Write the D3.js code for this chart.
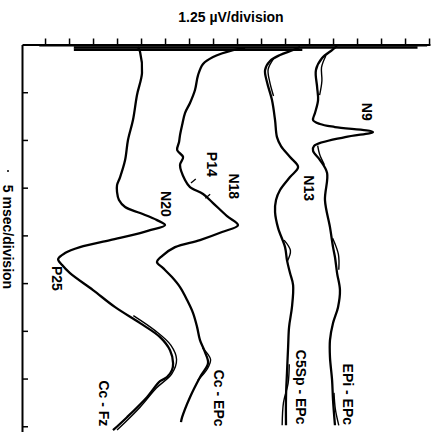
<!DOCTYPE html>
<html>
<head>
<meta charset="utf-8">
<script src="https://cdn.jsdelivr.net/npm/d3@7"></script>
<style>
  body { margin: 0; background: #fff; }
  svg text { font-family: "Liberation Sans", Arial, sans-serif; font-weight: bold; fill: #000; }
</style>
</head>
<body>
<div id="chart"></div>
<script>
// time in msec (down the page), amplitude in µV (across the page)
const ccFzT   = [0.26,0.79,2.99,5.29,7.91,10.01,12.11,13.89,14.73,15.46,16.30,17.03,17.66,18.40,18.92,19.45,19.76,20.49,21.23,21.85,22.48,23.11,23.95,25.73,27.52,29.19,30.66,32.03,33.39,34.12,34.86,35.28,36.95,39.05,40.41];
const ccFzV   = [4.84,4.95,5.05,4.79,4.58,4.32,4.17,3.91,3.75,3.75,3.85,4.17,4.95,5.83,6.25,5.47,4.95,3.39,1.82,1.04,0.68,0.89,1.30,2.50,3.65,4.95,5.99,6.51,6.67,6.61,6.35,5.99,5.31,4.27,3.54];

const ccEPcT  = [0.37,0.58,1.31,2.04,3.20,4.77,6.13,7.18,8.44,9.49,10.22,11.06,11.79,12.63,14.20,14.94,15.67,16.61,17.98,18.92,19.65,20.49,21.23,22.17,22.80,23.43,24.37,25.42,26.78,28.14,29.61,30.97,32.23,33.39,34.86,36.95,39.05,39.57];
const ccEPcV  = [10.42,9.79,8.75,8.23,7.97,7.81,7.55,7.29,7.14,7.03,6.98,6.88,7.19,7.03,7.29,7.55,8.23,8.75,9.48,10.05,9.22,8.07,6.77,6.09,5.83,6.15,6.61,7.03,7.40,7.71,7.92,8.07,8.33,8.49,8.07,7.55,7.14,7.08];

const c5spT   = [0.26,0.58,1.10,1.73,2.67,3.93,5.82,7.92,9.70,10.64,11.79,12.84,13.89,15.25,16.30,17.56,19.24,21.23,22.59,23.95,25.21,27.52,29.61,31.71,34.44,36.95,39.89];
const c5spV   = [13.28,12.92,12.24,11.72,11.46,11.56,11.82,11.98,12.08,12.29,12.76,13.18,12.76,12.24,12.03,11.98,12.14,12.50,12.60,12.76,12.92,12.86,12.71,12.66,12.60,12.55,12.55];

const epiT    = [0.16,0.58,1.42,2.67,4.45,5.82,7.18,7.92,8.33,8.65,9.17,9.70,10.64,11.16,12.11,13.47,16.30,19.13,21.23,22.27,23.95,25.73,27.52,29.19,30.97,32.75,35.16,37.26,39.89];
const epiV    = [15.21,14.95,14.43,14.11,14.17,14.22,14.06,13.96,14.32,15.10,17.08,15.63,14.01,13.96,14.32,14.69,14.58,14.84,15.00,15.10,15.21,15.36,15.26,15.00,14.84,14.84,14.95,15.00,15.10];

// second sweep, only where it separates from the first
const ccFzRepT  = [28.4,30.0,31.5,33.0,34.5,36.0,38.0,40.4];
const ccFzRepV  = [4.60,5.75,6.55,6.85,6.60,5.80,4.95,3.75];
const ccEPcRepT = [31.8,33.0,34.0,35.2];
const ccEPcRepV = [8.20,8.62,8.45,7.95];
const c5spRepT  = [1.5,2.6,3.9,5.4, 20.5,21.6,22.7, 33.5,35.5,37.5,39.9];
const c5spRepV  = [11.90,11.62,11.70,11.90, 12.45,12.78,12.62, 12.72,12.66,12.42,12.35];
const epiRepT   = [1.2,2.4,3.8,5.3, 10.6,11.5,12.6, 20.3,22.0,23.6, 36.5,38.2,39.9];
const epiRepV   = [14.62,14.40,14.42,14.30, 14.20,14.30,14.55, 14.98,15.28,15.30, 15.05,15.12,15.30];
const repBreaks = [[], [], [4, 7], [4, 7, 10]];

// stimulus artifact sweeps along the top
const artifactT    = [0.12, 0.32, 0.55];
const artifactFrom = [-0.3, 1.5, 1.5];
const artifactTo   = [19.9, 19.4, 13.4];

// peak labels
const peakNames = ["N9", "N13", "N18", "P14", "N20", "P25"];
const peakT     = [7.05, 15.05, 14.85, 12.55, 16.7, 24.5];
const peakV     = [16.77, 13.75, 9.85, 8.7, 6.3, 0.6];

const montageNames = ["Cc - Fz", "Cc - EPc", "C5Sp - EPc", "EPi - EPc"];
const montageT     = [37.6, 37.05, 35.9, 36.65];
const montageV     = [3.08, 9.06, 13.33, 15.78];

const ampTicks  = d3.range(0, 20.01, 1.25);
const timeTicks = d3.range(0, 40.01, 5);

const W = 434, H = 432;
const x = d3.scaleLinear().domain([-1.2, 20.05]).range([22, 430]);
const y = d3.scaleLinear().domain([0, 40.6]).range([44.5, 432]);

const svg = d3.select("#chart").append("svg")
  .attr("width", W).attr("height", H);

// axes
svg.append("g")
  .attr("transform", "translate(0," + y(0) + ")")
  .call(d3.axisTop(x).tickValues(ampTicks).tickSize(6).tickSizeOuter(0).tickFormat(""))
  .call(g => g.select(".domain").attr("stroke-width", 2))
  .call(g => g.selectAll(".tick line").attr("stroke-width", 1.5));

svg.append("g")
  .attr("transform", "translate(" + x(-1.2) + ",0)")
  .call(d3.axisRight(y).tickValues(timeTicks.slice(1)).tickSize(6).tickSizeOuter(0).tickFormat(""))
  .call(g => g.select(".domain").attr("stroke-width", 2))
  .call(g => g.selectAll(".tick line").attr("stroke-width", 1.5));

// artifact band
svg.selectAll("line.artifact")
  .data(artifactT)
  .enter().append("line")
  .attr("class", "artifact")
  .attr("x1", (d, i) => x(artifactFrom[i]))
  .attr("x2", (d, i) => x(artifactTo[i]))
  .attr("y1", d => y(d))
  .attr("y2", d => y(d))
  .attr("stroke", "#000")
  .attr("stroke-width", (d, i) => [1.5, 2.5, 2.5][i]);

const line = d3.line()
  .x(d => x(d[1]))
  .y(d => y(d[0]))
  .curve(d3.curveCatmullRom.alpha(0.5));

// second sweep (thinner), split into separate pieces
const reps = [[ccFzRepT, ccFzRepV], [ccEPcRepT, ccEPcRepV], [c5spRepT, c5spRepV], [epiRepT, epiRepV]];
const repPieces = [];
reps.forEach((r, k) => {
  const cuts = [0].concat(repBreaks[k], [r[0].length]);
  for (let j = 0; j < cuts.length - 1; j++) {
    const pts = [];
    for (let i = cuts[j]; i < cuts[j + 1]; i++) pts.push([r[0][i], r[1][i]]);
    repPieces.push(pts);
  }
});
svg.selectAll("path.rep")
  .data(repPieces)
  .enter().append("path")
  .attr("class", "rep")
  .attr("d", line)
  .attr("fill", "none")
  .attr("stroke", "#000")
  .attr("stroke-width", 1.4);

// waveforms
const traces = [[ccFzT, ccFzV], [ccEPcT, ccEPcV], [c5spT, c5spV], [epiT, epiV]];
svg.selectAll("path.trace")
  .data(traces.map(tr => tr[0].map((t, i) => [t, tr[1][i]])))
  .enter().append("path")
  .attr("class", "trace")
  .attr("d", line)
  .attr("fill", "none")
  .attr("stroke", "#000")
  .attr("stroke-width", 2.3)
  .attr("stroke-linejoin", "round");

// small pointer marks for P14 and N18
const pointerT = [[14.1, 14.5], [15.7, 16.1]];
const pointerV = [[7.85, 7.6], [8.6, 8.35]];
svg.selectAll("line.pointer")
  .data(pointerT)
  .enter().append("line")
  .attr("x1", (d, i) => x(pointerV[i][0]))
  .attr("x2", (d, i) => x(pointerV[i][1]))
  .attr("y1", d => y(d[0]))
  .attr("y2", d => y(d[1]))
  .attr("stroke", "#000")
  .attr("stroke-width", 1.3);

// rotated labels
function vtext(txt, px, py, size) {
  svg.append("text")
    .attr("transform", "translate(" + px + "," + py + ") rotate(90)")
    .attr("text-anchor", "middle")
    .attr("dominant-baseline", "central")
    .attr("font-size", size)
    .text(txt);
}
peakNames.forEach((n, i) => vtext(n, x(peakV[i]), y(peakT[i]), 14));
montageNames.forEach((n, i) => vtext(n, x(montageV[i]), y(montageT[i]), 14));

vtext("5 msec/division", 8, 237, 14);
svg.append("circle").attr("cx", 8).attr("cy", 171).attr("r", 1).attr("fill", "#000");

svg.append("text")
  .attr("x", 231).attr("y", 22)
  .attr("text-anchor", "middle")
  .attr("font-size", 14)
  .text("1.25 µV/division");
</script>
</body>
</html>
